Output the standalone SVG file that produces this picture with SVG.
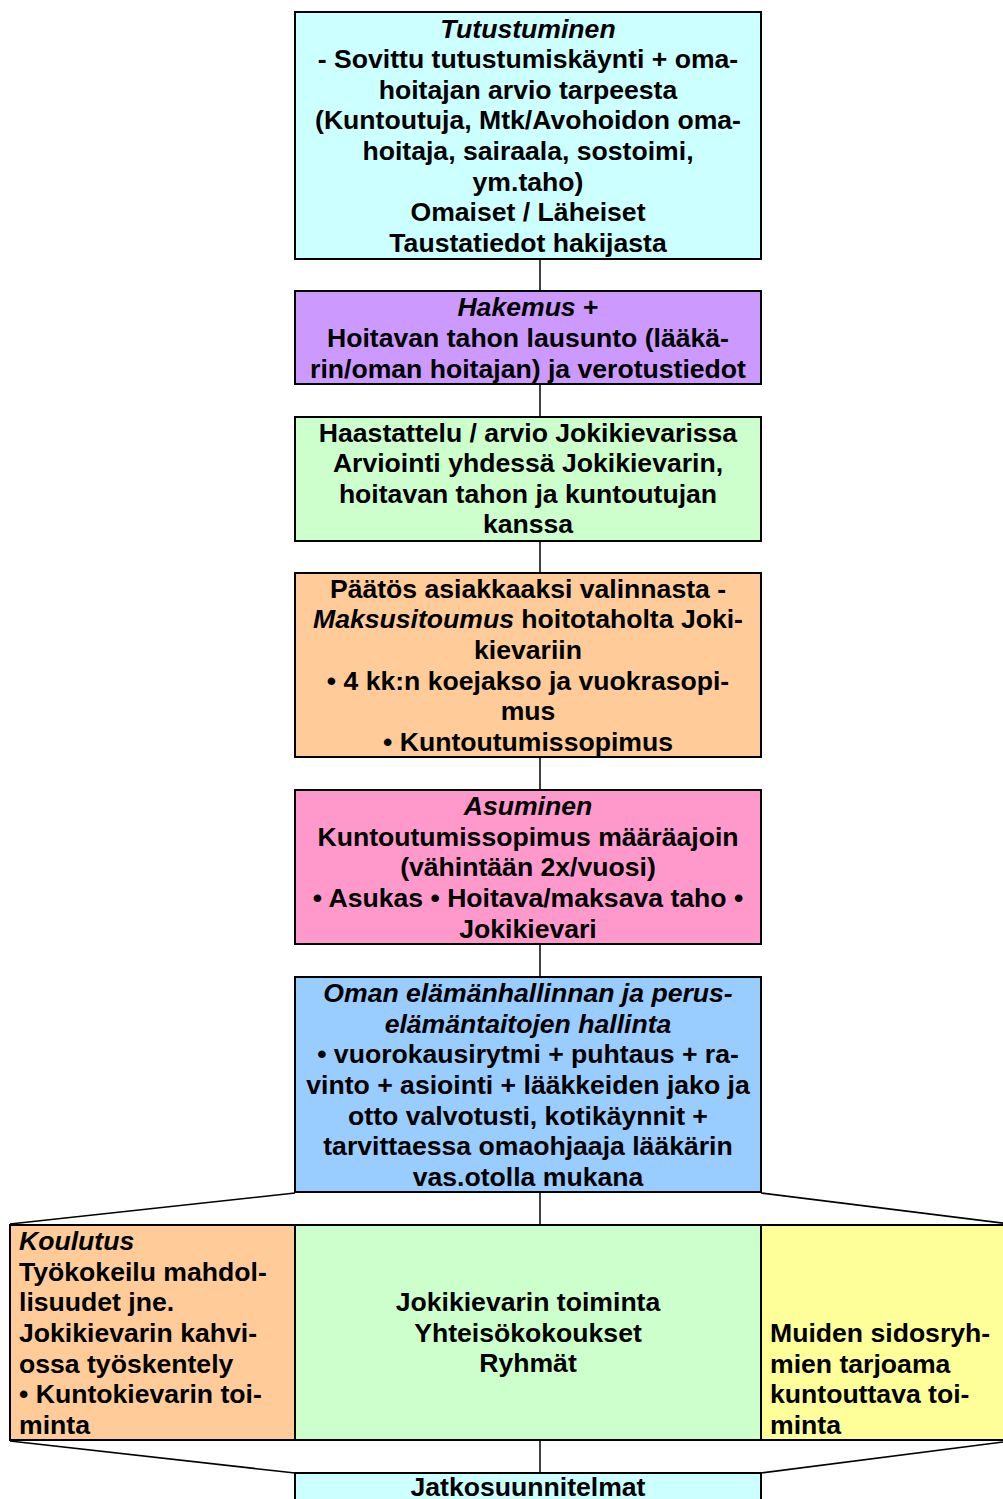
<svg xmlns="http://www.w3.org/2000/svg" width="1003" height="1499" viewBox="0 0 1003 1499">
<style>
.b{stroke:#000;stroke-width:2}
.t{font-family:"Liberation Sans",Arial,sans-serif;font-weight:bold;font-size:26.6px;fill:#000}
.c{text-anchor:middle}
.i{font-style:italic}
.ln{stroke:#000;stroke-width:1.5;fill:none}
</style>
<rect width="1003" height="1499" fill="#fff"/>
<g id="connectors">
<line class="ln" x1="540" y1="259" x2="540" y2="291"/>
<line class="ln" x1="540" y1="384" x2="540" y2="417"/>
<line class="ln" x1="540" y1="541" x2="540" y2="573"/>
<line class="ln" x1="540" y1="757" x2="540" y2="790"/>
<line class="ln" x1="540" y1="944" x2="540" y2="977"/>
<line class="ln" x1="540" y1="1192" x2="540" y2="1225"/>
<line class="ln" x1="295" y1="1193" x2="10" y2="1224"/>
<line class="ln" x1="761" y1="1193" x2="1010" y2="1224"/>
<line class="ln" x1="540" y1="1440" x2="540" y2="1473"/>
<line class="ln" x1="10" y1="1441" x2="295" y2="1473"/>
<line class="ln" x1="1010" y1="1441" x2="761" y2="1473"/>
</g>
<g id="tutustuminen">
<rect class="b" x="295" y="12" width="466" height="247" fill="#CCFFFF"/>
<text class="t c" x="528"><tspan class="i" x="528" y="38">Tutustuminen</tspan><tspan x="528" y="68">- Sovittu tutustumiskäynti + oma-</tspan><tspan x="528" y="99">hoitajan arvio tarpeesta</tspan><tspan x="528" y="129">(Kuntoutuja, Mtk/Avohoidon oma-</tspan><tspan x="528" y="160">hoitaja, sairaala, sostoimi,</tspan><tspan x="528" y="191">ym.taho)</tspan><tspan x="528" y="221">Omaiset / Läheiset</tspan><tspan x="528" y="252">Taustatiedot hakijasta</tspan></text>
</g>
<g id="hakemus">
<rect class="b" x="295" y="291" width="466" height="93" fill="#CC99FF"/>
<text class="t c"><tspan x="528" y="316"><tspan class="i">Hakemus</tspan> +</tspan><tspan x="528" y="347">Hoitavan tahon lausunto (lääkä-</tspan><tspan x="528" y="378">rin/oman hoitajan) ja verotustiedot</tspan></text>
</g>
<g id="haastattelu">
<rect class="b" x="295" y="417" width="466" height="124" fill="#CCFFCC"/>
<text class="t c"><tspan x="528" y="442">Haastattelu / arvio Jokikievarissa</tspan><tspan x="528" y="472">Arviointi yhdessä Jokikievarin,</tspan><tspan x="528" y="503">hoitavan tahon ja kuntoutujan</tspan><tspan x="528" y="533">kanssa</tspan></text>
</g>
<g id="paatos">
<rect class="b" x="295" y="573" width="466" height="184" fill="#FFCC99"/>
<text class="t c"><tspan x="528" y="598">Päätös asiakkaaksi valinnasta -</tspan><tspan x="528" y="628"><tspan class="i">Maksusitoumus</tspan> hoitotaholta Joki-</tspan><tspan x="528" y="659">kievariin</tspan><tspan x="528" y="690">• 4 kk:n koejakso ja vuokrasopi-</tspan><tspan x="528" y="720">mus</tspan><tspan x="528" y="751">• Kuntoutumissopimus</tspan></text>
</g>
<g id="asuminen">
<rect class="b" x="295" y="790" width="466" height="154" fill="#FF99CC"/>
<text class="t c"><tspan class="i" x="528" y="815">Asuminen</tspan><tspan x="528" y="846">Kuntoutumissopimus määräajoin</tspan><tspan x="528" y="876">(vähintään 2x/vuosi)</tspan><tspan x="528" y="907">• Asukas • Hoitava/maksava taho •</tspan><tspan x="528" y="938">Jokikievari</tspan></text>
</g>
<g id="elamanhallinta">
<rect class="b" x="295" y="977" width="466" height="215" fill="#99CCFF"/>
<text class="t c"><tspan class="i" x="528" y="1002">Oman elämänhallinnan ja perus-</tspan><tspan class="i" x="528" y="1033">elämäntaitojen hallinta</tspan><tspan x="528" y="1063">• vuorokausirytmi + puhtaus + ra-</tspan><tspan x="528" y="1094">vinto + asiointi + lääkkeiden jako ja</tspan><tspan x="528" y="1125">otto valvotusti, kotikäynnit +</tspan><tspan x="528" y="1155">tarvittaessa omaohjaaja lääkärin</tspan><tspan x="528" y="1186">vas.otolla mukana</tspan></text>
</g>
<g id="koulutus">
<rect class="b" x="10" y="1225" width="285" height="215" fill="#FFCC99"/>
<text class="t"><tspan class="i" x="19" y="1250">Koulutus</tspan><tspan x="19" y="1281">Työkokeilu mahdol-</tspan><tspan x="19" y="1311">lisuudet jne.</tspan><tspan x="19" y="1342">Jokikievarin kahvi-</tspan><tspan x="19" y="1373">ossa työskentely</tspan><tspan x="19" y="1403">• Kuntokievarin toi-</tspan><tspan x="19" y="1434">minta</tspan></text>
</g>
<g id="toiminta">
<rect class="b" x="295" y="1225" width="466" height="215" fill="#CCFFCC"/>
<text class="t c"><tspan x="528" y="1311">Jokikievarin toiminta</tspan><tspan x="528" y="1342">Yhteisökokoukset</tspan><tspan x="528" y="1372">Ryhmät</tspan></text>
</g>
<g id="sidosryhmat">
<rect class="b" x="761" y="1225" width="250" height="215" fill="#FFFF99"/>
<text class="t"><tspan x="770" y="1342">Muiden sidosryh-</tspan><tspan x="770" y="1373">mien tarjoama</tspan><tspan x="770" y="1403">kuntouttava toi-</tspan><tspan x="770" y="1434">minta</tspan></text>
</g>
<g id="jatkosuunnitelmat">
<rect class="b" x="295" y="1473" width="466" height="40" fill="#CCFFFF"/>
<text class="t c" x="528" y="1496">Jatkosuunnitelmat</text>
</g>
</svg>
